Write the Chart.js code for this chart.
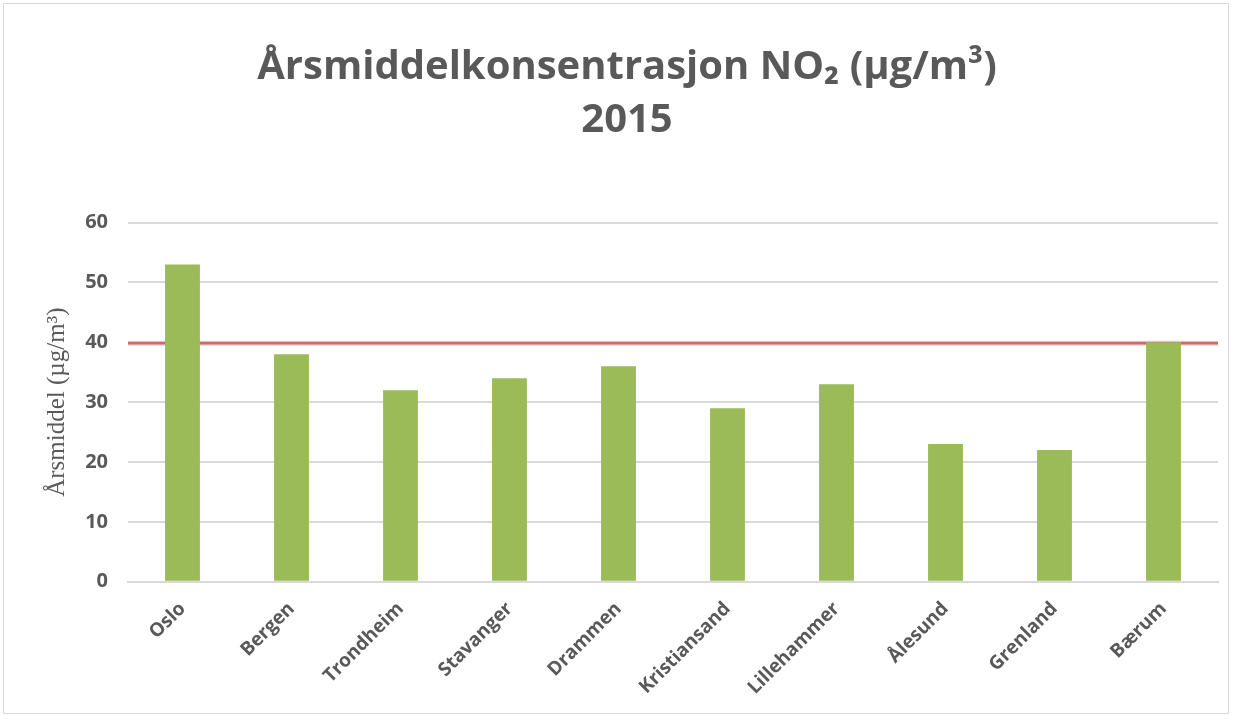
<!DOCTYPE html>
<html>
<head>
<meta charset="utf-8">
<script src="https://cdn.jsdelivr.net/npm/chart.js@4.4.1/dist/chart.umd.min.js"></script>
<style>
html,body{margin:0;padding:0;background:#fff;}
#wrap{position:absolute;left:0;top:0;width:1234px;height:720px;}
#frame{position:absolute;left:3px;top:3px;width:1226px;height:711px;border:1px solid #d9d9d9;box-sizing:border-box;pointer-events:none;}
</style>
</head>
<body>
<div id="wrap"><canvas id="c" width="1234" height="720"></canvas><div id="frame"></div></div>
<script>
const categories = ["Oslo","Bergen","Trondheim","Stavanger","Drammen","Kristiansand","Lillehammer","Ålesund","Grenland","Bærum"];
const values = [53, 38, 32, 34, 36, 29, 33, 23, 22, 40];
const limitValue = 40;
const yTicks = [0,10,20,30,40,50,60];
const titleLines = ["Årsmiddelkonsentrasjon NO\u2082 (µg/m\u00B3)", "2015"];
const yAxisTitle = "Årsmiddel (µg/m\u00B3)";

const limitLine = {
  id: 'limitLine',
  beforeDatasetsDraw(chart) {
    const {ctx, chartArea, scales} = chart;
    const y = scales.y.getPixelForValue(limitValue) + 1;
    ctx.save();
    ctx.strokeStyle = 'rgba(230,180,180,0.6)';
    ctx.lineWidth = 5;
    ctx.beginPath(); ctx.moveTo(chartArea.left, y); ctx.lineTo(chartArea.right, y); ctx.stroke();
    ctx.strokeStyle = '#d0686a';
    ctx.lineWidth = 2.5;
    ctx.beginPath(); ctx.moveTo(chartArea.left, y); ctx.lineTo(chartArea.right, y); ctx.stroke();
    ctx.restore();
  }
};

Chart.defaults.font.family = "'Open Sans', sans-serif";
new Chart(document.getElementById('c'), {
  type: 'bar',
  data: {
    labels: categories,
    datasets: [{
      data: values,
      backgroundColor: '#9bbb59',
      barPercentage: 0.32,
      categoryPercentage: 1.0
    }]
  },
  options: {
    responsive: false,
    animation: false,
    layout: { padding: { left: 36, right: 16, top: 41, bottom: 5 } },
    plugins: {
      legend: { display: false },
      tooltip: { enabled: false },
      title: {
        display: true,
        text: titleLines,
        color: '#595959',
        font: { size: 40, weight: 'bold', family: "'Open Sans', sans-serif", lineHeight: 1.32 },
        padding: { top: 0, bottom: 76 }
      }
    },
    scales: {
      x: {
        grid: { display: false, drawTicks: false },
        border: { display: true, color: '#d9d9d9', width: 2 },
        ticks: {
          color: '#595959',
          font: { size: 19, weight: 'bold' },
          maxRotation: 45, minRotation: 45,
          padding: 16
        }
      },
      y: {
        min: 0, max: 60,
        afterBuildTicks(axis) { axis.ticks = yTicks.map(v => ({ value: v })); },
        afterFit(scale) { scale.width = 92; },
        grid: { color: '#d9d9d9', lineWidth: 2, drawTicks: false },
        border: { display: false },
        ticks: {
          color: '#595959',
          font: { size: 20, weight: 'bold' },
          padding: 20
        },
        title: {
          display: true,
          text: yAxisTitle,
          color: '#595959',
          font: { size: 25, family: "'Liberation Serif', 'DejaVu Serif', serif" },
          padding: { top: 6, bottom: 0 }
        }
      }
    }
  },
  plugins: [limitLine]
});
</script>
</body>
</html>
